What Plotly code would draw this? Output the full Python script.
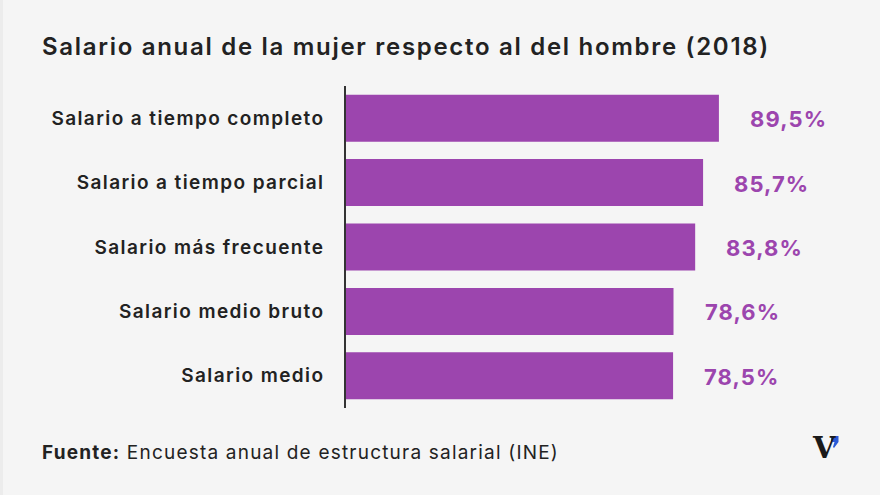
import plotly.graph_objects as go

categories = ["Salario a tiempo completo", "Salario a tiempo parcial", "Salario más frecuente",
              "Salario medio bruto", "Salario medio"]
values = [89.5, 85.7, 83.8, 78.6, 78.5]
value_labels = ["89,5%", "85,7%", "83,8%", "78,6%", "78,5%"]

title = "Salario anual de la mujer respecto al del hombre (2018)"
source_bold = "Fuente:"
source_text = "Encuesta anual de estructura salarial (INE)"

BAR = "#9c45ae"
BG = "#f5f5f5"
FONT = "Inter, Roboto, sans-serif"

fig = go.Figure()
fig.add_trace(go.Bar(
    x=values, y=categories, orientation="h",
    marker=dict(color=BAR, line=dict(width=0)),
    hoverinfo="skip",
))

for v, lab, cat in zip(values, value_labels, categories):
    fig.add_annotation(x=v, y=cat, text=lab, showarrow=False, align="left",
                       xanchor="left", xshift=29, yshift=-1,
                       font=dict(family=FONT, size=22, color=BAR, weight=700))

fig.update_layout(
    width=880, height=495,
    paper_bgcolor=BG, plot_bgcolor=BG,
    margin=dict(l=346, r=34, t=86, b=87),
    showlegend=False,
    bargap=0.27,
    xaxis=dict(range=[0, 120], visible=False, fixedrange=True),
    yaxis=dict(autorange="reversed", showline=True, linecolor="#333333", linewidth=1.5,
               ticks="", showgrid=False, zeroline=False,
               tickfont=dict(family=FONT, size=19, color="#222222", weight=600),
               ticklabelstandoff=16),
    title=dict(text=title, x=42/880, xanchor="left",
               y=1 - 47/495, yanchor="middle",
               font=dict(family=FONT, size=24, color="#222222", weight=600)),
)

fig.add_annotation(text=f"<b>{source_bold}</b> {source_text}", xref="paper", yref="paper",
                   x=-306/500, y=-(452-408)/322, xanchor="left", yanchor="middle",
                   align="left",
                   showarrow=False, font=dict(family=FONT, size=19, color="#222222"))

fig.add_annotation(text="<b>V</b>", xref="paper", yref="paper",
                   x=(824-346)/500, y=-(448-408)/322, xanchor="center", yanchor="middle",
                   showarrow=False, font=dict(family="DejaVu Serif", size=29, color="#1a1a1a"))


def px(x):
    return (x - 346) / 500


def py(y):
    return -(y - 408) / 322


mark = (f"M {px(831)} {py(436)} L {px(838.5)} {py(436)} L {px(838.5)} {py(442)} "
        f"L {px(834)} {py(448)} L {px(833)} {py(447)} L {px(834.5)} {py(442)} "
        f"L {px(831)} {py(442)} Z")
fig.add_shape(type="path", xref="paper", yref="paper", path=mark,
              fillcolor="#2a5bd7", line=dict(width=0))
# faint left edge strip
fig.add_shape(type="rect", xref="paper", yref="paper",
              x0=px(0), x1=px(3), y0=py(495), y1=py(0),
              fillcolor="#ececec", line=dict(width=0), layer="below")

css = """
var s=document.createElement('style');
s.textContent='.gtitle{letter-spacing:1.7px}.ytick text{letter-spacing:1.4px}'
 + '.annotation .annotation-text{letter-spacing:1.1px}'
 + '.annotation[data-index="5"] .annotation-text{letter-spacing:1.2px}'
 + '.annotation[data-index="6"] .annotation-text{letter-spacing:0px}';
document.head.appendChild(s);
"""
fig.write_html("out.html", post_script=css)
